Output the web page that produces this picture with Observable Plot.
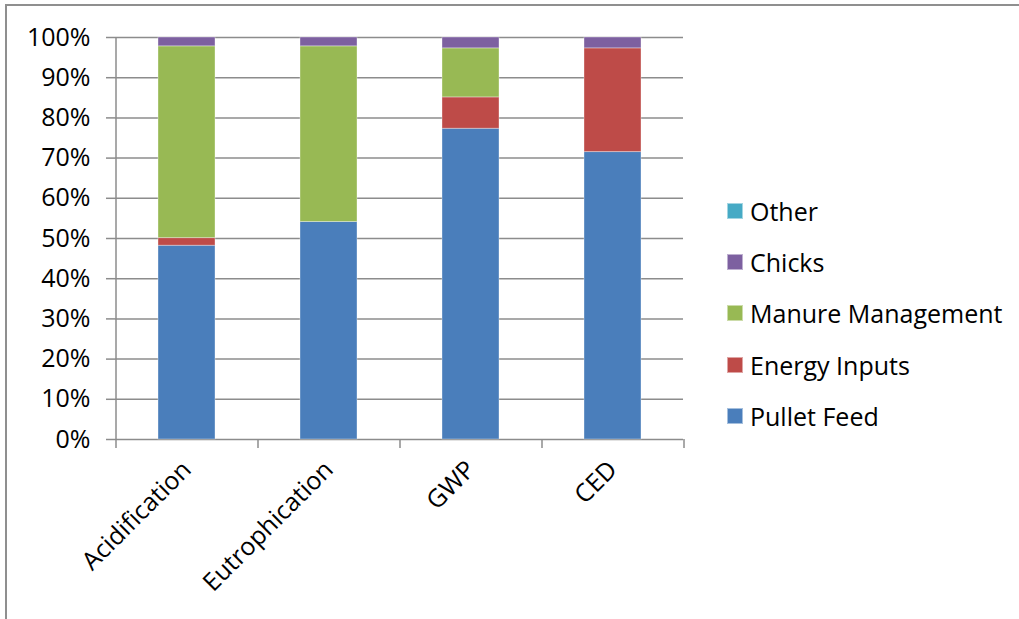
<!DOCTYPE html>
<html><head><meta charset="utf-8">
<script src="https://cdn.jsdelivr.net/npm/d3@7"></script>
<script src="https://cdn.jsdelivr.net/npm/@observablehq/plot@0.6"></script>
<style>
body{margin:0;background:#fff;}
#wrap{position:relative;width:1019px;height:619px;overflow:hidden;font-family:"Open Sans",Lato,sans-serif;}
#frame{position:absolute;left:5px;top:4px;width:1100px;height:700px;border-left:2px solid #8f8f8f;border-top:2px solid #8f8f8f;pointer-events:none;}
#chart{position:absolute;left:0;top:0;}
#legend{position:absolute;left:727px;top:185px;}
.item{height:51.3px;display:flex;align-items:center;font-size:25px;color:#000;}
.sw{width:16px;height:16px;margin-right:7px;box-sizing:border-box;border:1px solid rgba(255,255,255,0.5);}
</style></head>
<body>
<div id="wrap"><div id="chart"></div><div id="legend"></div><div id="frame"></div></div>
<script>
const categories = ["Acidification", "Eutrophication", "GWP", "CED"];
const seriesNames = ["Pullet Feed", "Energy Inputs", "Manure Management", "Chicks", "Other"];
const seriesColors = ["#4a7ebb", "#be4b48", "#98b954", "#7d60a0", "#46aac5"];
const pulletFeed = [48.2, 54.1, 77.3, 71.5];
const energyInputs = [1.9, 0.0, 7.8, 25.8];
const manureManagement = [47.7, 43.7, 12.2, 0.0];
const chicks = [2.2, 2.2, 2.7, 2.7];
const other = [0, 0, 0, 0];
const yTicks = [0, 10, 20, 30, 40, 50, 60, 70, 80, 90, 100];

const seriesValues = [pulletFeed, energyInputs, manureManagement, chicks, other];
const data = [];
seriesNames.forEach((s, si) => categories.forEach((c, ci) => data.push({category: c, series: s, value: seriesValues[si][ci]})));

const W = 1019, H = 619, ML = 115, MR = 336, MT = 37, MB = 180;
const step = (W - ML - MR) / categories.length;
const FONT = "'Open Sans', Lato, sans-serif";

const plot = Plot.plot({
  width: W, height: H,
  marginLeft: ML, marginRight: MR, marginTop: MT, marginBottom: MB,
  style: {fontFamily: FONT, fontSize: "25px", color: "#000", background: "transparent"},
  x: {domain: categories, paddingInner: 0.6, paddingOuter: 0.3, label: null},
  y: {domain: [0, 100], label: null},
  color: {domain: seriesNames, range: seriesColors},
  marks: [
    Plot.ruleY(yTicks, {stroke: "#8c8c8c", strokeWidth: 1.5}),
    Plot.barY(data, {x: "category", y: "value", fill: "series", order: seriesNames, stroke: "rgba(255,255,255,0.35)", strokeWidth: 1}),
    Plot.ruleX([categories[0]], {x: d => d, dx: -step / 2, y1: 0, y2: 100, stroke: "#8c8c8c", strokeWidth: 1.5}),
    Plot.axisX(categories, {tickSize: 9, tickFormat: () => "", dx: step / 2, stroke: "#8c8c8c", strokeWidth: 1.5, label: null}),
    Plot.axisX([categories[0]], {tickSize: 9, tickFormat: () => "", dx: -step / 2, stroke: "#8c8c8c", strokeWidth: 1.5, label: null}),
    Plot.axisX(categories, {tickSize: 0, tickRotate: -45, tickPadding: 26, fontSize: 25, fill: "#000", label: null}),
    Plot.axisY(yTicks, {tickSize: 9, tickPadding: 16, tickFormat: d => d + "%", fontSize: 25, fill: "#000", stroke: "#8c8c8c", strokeWidth: 1.5, label: null})
  ]
});
document.getElementById("chart").appendChild(plot);

const legend = document.getElementById("legend");
seriesNames.slice().reverse().forEach(s => {
  const i = seriesNames.indexOf(s);
  const div = document.createElement("div");
  div.className = "item";
  div.innerHTML = `<span class="sw" style="background:${seriesColors[i]}"></span><span>${s}</span>`;
  legend.appendChild(div);
});
</script>
</body></html>
